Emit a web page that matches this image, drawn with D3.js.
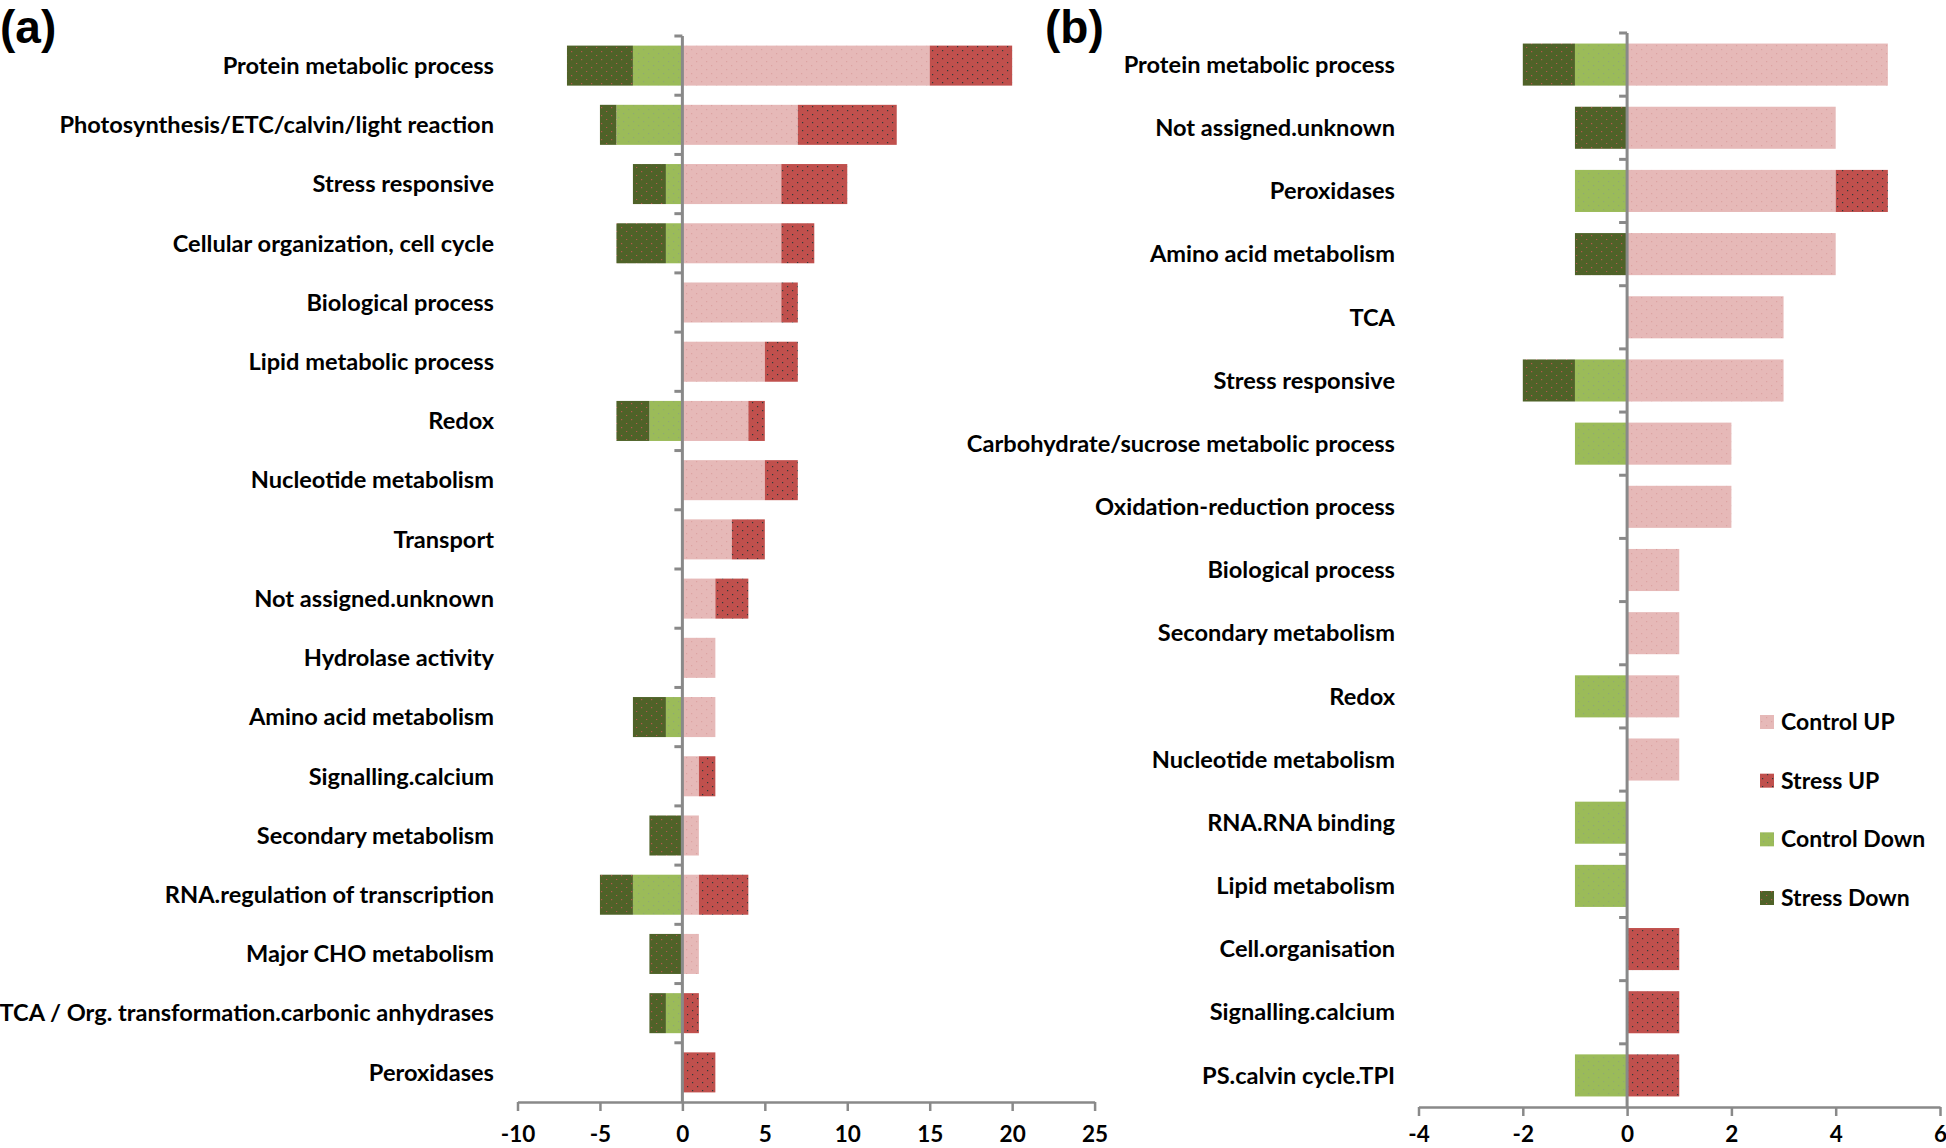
<!DOCTYPE html>
<html><head><meta charset="utf-8">
<script src="https://cdn.jsdelivr.net/npm/d3@7"></script>
<style>
body{margin:0;background:#fff}
text{font-family:Lato,"Open Sans",sans-serif;font-weight:700;fill:#000}
</style>
</head><body>
<svg id="c" width="1946" height="1148"></svg>
<script>
// ---------- Panel (a) data ----------
const catsA = ["Protein metabolic process","Photosynthesis/ETC/calvin/light reaction","Stress responsive","Cellular organization, cell cycle","Biological process","Lipid metabolic process","Redox","Nucleotide metabolism","Transport","Not assigned.unknown","Hydrolase activity","Amino acid metabolism","Signalling.calcium","Secondary metabolism","RNA.regulation of transcription","Major CHO metabolism","TCA / Org. transformation.carbonic anhydrases","Peroxidases"];
const controlUpA   = [15,7,6,6,6,5,4,5,3,2,2,2,1,1,1,1,0,0];
const stressUpA    = [5,6,4,2,1,2,1,2,2,2,0,0,1,0,3,0,1,2];
const controlDownA = [3,4,1,1,0,0,2,0,0,0,0,1,0,0,3,0,1,0];
const stressDownA  = [4,1,2,3,0,0,2,0,0,0,0,2,0,2,2,2,1,0];
const ticksA = [-10,-5,0,5,10,15,20,25];

// ---------- Panel (b) data ----------
const catsB = ["Protein metabolic process","Not assigned.unknown","Peroxidases","Amino acid metabolism","TCA","Stress responsive","Carbohydrate/sucrose metabolic process","Oxidation-reduction process","Biological process","Secondary metabolism","Redox","Nucleotide metabolism","RNA.RNA binding","Lipid metabolism","Cell.organisation","Signalling.calcium","PS.calvin cycle.TPI"];
const controlUpB   = [5,4,4,4,3,3,2,2,1,1,1,1,0,0,0,0,0];
const stressUpB    = [0,0,1,0,0,0,0,0,0,0,0,0,0,0,1,1,1];
const controlDownB = [1,0,1,0,0,1,1,0,0,0,1,0,1,1,0,0,1];
const stressDownB  = [1,1,0,1,0,1,0,0,0,0,0,0,0,0,0,0,0];
const ticksB = [-4,-2,0,2,4,6];

const legendLabels = ["Control UP","Stress UP","Control Down","Stress Down"];
const colors = {cu:"#E6B9B8", su:"#C0504D", cd:"#9BBB59", sd:"#4F6228"};

const svg = d3.select("#c");
const defs = svg.append("defs");
function pat(id, bg, dot, pts){
  const p = defs.append("pattern").attr("id",id).attr("patternUnits","userSpaceOnUse")
    .attr("width",10).attr("height",8);
  p.append("rect").attr("width",10).attr("height",8).attr("fill",bg);
  pts.forEach(([x,y])=>p.append("rect").attr("x",x).attr("y",y).attr("width",1.2).attr("height",1.2).attr("fill",dot));
}
pat("pcu", colors.cu, "#dca3a2", [[1,1],[6,5]]);
pat("psu", colors.su, "#2f3a3a", [[2,2],[7,6]]);
pat("pcd", colors.cd, "#8fa874", [[3,1],[8,5]]);
pat("psd", colors.sd, "#b8574f", [[1,3],[6,7]]);
const fills = {cu:"url(#pcu)", su:"url(#psu)", cd:"url(#pcd)", sd:"url(#psd)"};

function panel(cfg){
  const {cats, cu, su, cd, sd, ticks, xr, yr, pad, labelX, tickPad} = cfg;
  const x = d3.scaleLinear().domain([ticks[0], ticks[ticks.length-1]]).range(xr);
  const y = d3.scaleBand().domain(cats).range(yr).paddingInner(pad).paddingOuter(pad/2);
  const g = svg.append("g");
  const rows = cats.map((c,i)=>({c, cu:cu[i], su:su[i], cd:cd[i], sd:sd[i]}));
  const segs = [];
  rows.forEach(r=>{
    if(r.cu) segs.push({c:r.c, x0:0, x1:r.cu, k:"cu"});
    if(r.su) segs.push({c:r.c, x0:r.cu, x1:r.cu+r.su, k:"su"});
    if(r.cd) segs.push({c:r.c, x0:-r.cd, x1:0, k:"cd"});
    if(r.sd) segs.push({c:r.c, x0:-(r.cd+r.sd), x1:-r.cd, k:"sd"});
  });
  g.selectAll("rect.bar").data(segs).join("rect").attr("class","bar")
    .attr("x",d=>x(d.x0)).attr("width",d=>x(d.x1)-x(d.x0))
    .attr("y",d=>y(d.c)).attr("height",y.bandwidth())
    .attr("fill",d=>fills[d.k]);
  // x axis
  const ax = g.append("g").attr("transform",`translate(0,${yr[1]})`)
    .call(d3.axisBottom(x).tickValues(ticks).tickFormat(d=>String(d)).tickSize(9).tickSizeOuter(0).tickPadding(tickPad));
  ax.select(".domain").attr("stroke","#898989").attr("stroke-width",2.5);
  ax.selectAll(".tick line").attr("stroke","#898989").attr("stroke-width",2.5);
  ax.selectAll(".tick text").style("font-size","22.5px").style("font-family","Lato,sans-serif").style("font-weight","700").attr("fill","#000");
  // vertical axis at 0
  const x0 = x(0);
  g.append("line").attr("x1",x0).attr("x2",x0).attr("y1",yr[0]).attr("y2",yr[1])
    .attr("stroke","#898989").attr("stroke-width",3);
  const off = y.step()*y.paddingInner()/2;
  g.selectAll("line.ct").data(cats).join("line").attr("class","ct")
    .attr("x1",x0-8).attr("x2",x0).attr("y1",d=>y(d)-off).attr("y2",d=>y(d)-off)
    .attr("stroke","#898989").attr("stroke-width",3);
  // labels
  g.selectAll("text.lab").data(cats).join("text").attr("class","lab")
    .attr("x",labelX).attr("y",d=>y(d)+y.bandwidth()/2).attr("dy","0.35em")
    .attr("text-anchor","end").style("font-size","23.6px").text(d=>d);
}

panel({cats:catsA, cu:controlUpA, su:stressUpA, cd:controlDownA, sd:stressDownA, ticks:ticksA,
  xr:[517.5,1094.6], yr:[36,1102], pad:0.324, labelX:494, tickPad:15});
panel({cats:catsB, cu:controlUpB, su:stressUpB, cd:controlDownB, sd:stressDownB, ticks:ticksB,
  xr:[1418.5,1940], yr:[33,1107], pad:0.334, labelX:1395, tickPad:10});

// panel letters
svg.append("text").attr("x",0).attr("y",43).style("font-family","Liberation Sans,Arial,sans-serif").style("font-size","46px").text("(a)");
svg.append("text").attr("x",1045).attr("y",43).style("font-family","Liberation Sans,Arial,sans-serif").style("font-size","46px").text("(b)");

// legend
const lg = svg.append("g");
const lk = ["cu","su","cd","sd"];
const ly = d3.scalePoint().domain(legendLabels).range([722,898]);
lg.selectAll("rect").data(legendLabels).join("rect")
  .attr("x",1760).attr("y",d=>ly(d)-7).attr("width",14).attr("height",14)
  .attr("fill",(d,i)=>fills[lk[i]]);
lg.selectAll("text").data(legendLabels).join("text")
  .attr("x",1781).attr("y",d=>ly(d)).attr("dy","0.35em").style("font-size","23px").text(d=>d);
</script>
</body></html>
